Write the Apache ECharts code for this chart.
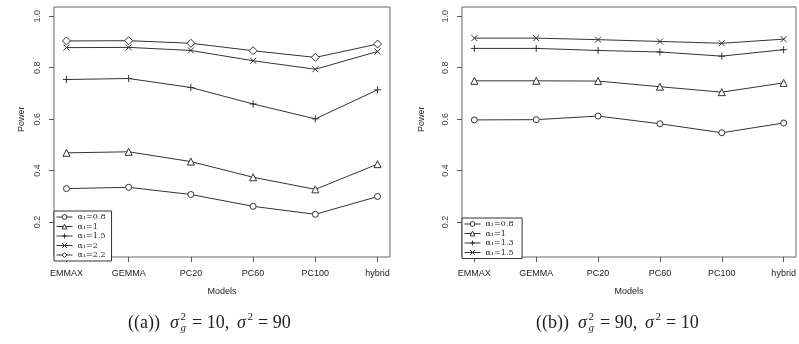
<!DOCTYPE html>
<html>
<head>
<meta charset="utf-8">
<script src="https://cdn.jsdelivr.net/npm/echarts@6/dist/echarts.min.js"></script>
<style>
  html, body { margin: 0; padding: 0; background: #fff; }
  #main { width: 799px; height: 344px; }
</style>
</head>
<body>
<div id="main"></div>
<script>
// models on the x axis
var models = ['EMMAX', 'GEMMA', 'PC20', 'PC60', 'PC100', 'hybrid'];

// panel (a): sigma_g^2 = 10, sigma^2 = 90
var a08 = [0.330, 0.335, 0.307, 0.261, 0.230, 0.299];
var a10 = [0.469, 0.473, 0.435, 0.374, 0.327, 0.425];
var a15 = [0.754, 0.758, 0.723, 0.659, 0.601, 0.714];
var a20 = [0.878, 0.879, 0.867, 0.827, 0.794, 0.863];
var a22 = [0.904, 0.905, 0.895, 0.866, 0.840, 0.892];

// panel (b): sigma_g^2 = 90, sigma^2 = 10
var b08 = [0.597, 0.598, 0.612, 0.582, 0.547, 0.585];
var b10 = [0.749, 0.749, 0.748, 0.726, 0.705, 0.741];
var b13 = [0.875, 0.875, 0.867, 0.861, 0.845, 0.870];
var b15 = [0.915, 0.915, 0.909, 0.902, 0.895, 0.911];

var ink = '#333';
var PLUS = 'path://M5,0L5,10M0,5L10,5';
var CROSS = 'path://M0,0L10,10M10,0L0,10';

// R-style box: frame is 4% wider than the data range on every side
var boxA = { left: 54, top: 7, width: 336, height: 250 };
var boxB = { left: 462, top: 7, width: 334, height: 250 };
var yLo = 0.064, yHi = 1.036;
var TICK = 5;

function inner(box) {
  var padX = box.width * 0.2 / 5.4;
  var top = box.top + box.height * (yHi - 1.0) / (yHi - yLo);
  var bottom = box.top + box.height * (yHi - 0.2) / (yHi - yLo);
  return {
    left: box.left + padX, top: top, width: box.width - 2 * padX, height: bottom - top,
    offX: box.top + box.height - bottom, offY: padX
  };
}
var inA = inner(boxA), inB = inner(boxB);

function line(name, arr, idx, symbol, size) {
  return {
    name: name,
    type: 'line',
    xAxisIndex: idx,
    yAxisIndex: idx,
    data: arr,
    symbol: symbol,
    symbolSize: size,
    clip: false,
    lineStyle: { color: ink, width: 1 },
    itemStyle: { color: '#fff', borderColor: ink, borderWidth: 1 },
    emphasis: { disabled: true },
    z: 3
  };
}

function xAxis(idx, off) {
  return {
    type: 'category', gridIndex: idx, data: models, boundaryGap: false, offset: off,
    name: 'Models', nameLocation: 'middle', nameGap: 30,
    nameTextStyle: { fontSize: 9, color: '#222', fontFamily: 'Liberation Sans' },
    axisLine: { show: false },
    splitLine: { show: false },
    axisTick: { show: false },
    axisLabel: { margin: 12, fontSize: 9, color: '#222', fontFamily: 'Liberation Sans', interval: 0 }
  };
}

function yAxis(idx, off, gap) {
  return {
    type: 'value', gridIndex: idx, min: 0.2, max: 1.0, interval: 0.2, offset: off,
    name: 'Power', nameLocation: 'middle', nameGap: gap, nameRotate: 90,
    nameTextStyle: { fontSize: 9, color: '#222', fontFamily: 'Liberation Sans' },
    axisLine: { show: false },
    splitLine: { show: false },
    axisTick: { show: false },
    axisLabel: {
      rotate: 90, margin: 12, fontSize: 9, color: '#444', fontFamily: 'Liberation Sans',
      formatter: function (v) { return v.toFixed(1); }
    }
  };
}

// thin strip grids whose split lines act as the outward tick marks
var hidden = { show: false };
var tickLine = { show: true, lineStyle: { color: '#555', width: 1 } };
function xTickAxes(idx) {
  return [
    { type: 'category', gridIndex: idx, data: models, boundaryGap: false,
      axisLine: hidden, axisTick: hidden, axisLabel: hidden, splitLine: tickLine },
    { type: 'value', gridIndex: idx, min: 0, max: 1, axisLine: hidden, axisTick: hidden,
      axisLabel: hidden, splitLine: hidden }
  ];
}
function yTickAxes(idx) {
  return [
    { type: 'value', gridIndex: idx, min: 0, max: 1, axisLine: hidden, axisTick: hidden,
      axisLabel: hidden, splitLine: hidden },
    { type: 'value', gridIndex: idx, min: 0.2, max: 1.0, interval: 0.2,
      axisLine: hidden, axisTick: hidden, axisLabel: hidden, splitLine: tickLine }
  ];
}

function legend(names, left, top) {
  return {
    orient: 'vertical', left: left, top: top,
    data: names,
    itemWidth: 16, itemHeight: 6, itemGap: 1.5,
    padding: [2, 6, 2, 2],
    borderColor: ink, borderWidth: 1, backgroundColor: '#fff',
    itemStyle: { borderWidth: 1, borderColor: ink, color: '#fff' },
    lineStyle: { width: 1, color: ink },
    textStyle: { fontSize: 8, color: '#222', lineHeight: 7, fontFamily: 'DejaVu Serif' },
    selectedMode: false,
    z: 5
  };
}

// caption pieces: "((a)) σg² = 10, σ² = 90"
function caption(dx, tag, v1, v2) {
  var f = '"Liberation Serif", "DejaVu Serif", serif';
  var y = 323;
  function t(x, yy, s, size, italic) {
    return {
      type: 'text', x: x + dx, y: yy,
      style: {
        text: s, fill: '#222', fontSize: size, fontFamily: f,
        fontStyle: italic ? 'italic' : 'normal',
        textAlign: 'left', textVerticalAlign: 'middle'
      }
    };
  }
  return [
    t(128, y, '((' + tag + '))', 18, false),
    t(170, y, 'σ', 18, true),
    t(180.5, y - 6, '2', 11, false),
    t(180.5, y + 5, 'g', 11, true),
    t(192, y, '= ' + v1 + ',', 18, false),
    t(237, y, 'σ', 18, true),
    t(247.5, y - 6, '2', 11, false),
    t(258, y, '= ' + v2, 18, false)
  ];
}

function frame(box) {
  return { left: box.left, top: box.top, width: box.width, height: box.height,
    show: true, borderColor: '#666', borderWidth: 1, backgroundColor: 'transparent' };
}
function plain(g) {
  return { left: g.left, top: g.top, width: g.width, height: g.height, show: false };
}
function xStrip(g, box) {
  return plain({ left: g.left, top: box.top + box.height, width: g.width, height: TICK });
}
function yStrip(g, box) {
  return plain({ left: box.left - TICK, top: g.top, width: TICK, height: g.height });
}

var xs = [xAxis(0, inA.offX), xAxis(1, inB.offX)];
var ys = [yAxis(0, inA.offY, 28), yAxis(1, inB.offY, 36)];
[xTickAxes(2), xTickAxes(3), yTickAxes(4), yTickAxes(5)].forEach(function (p) {
  xs.push(p[0]); ys.push(p[1]);
});

var option = {
  backgroundColor: '#fff',
  animation: false,
  grid: [plain(inA), plain(inB),
    xStrip(inA, boxA), xStrip(inB, boxB), yStrip(inA, boxA), yStrip(inB, boxB),
    frame(boxA), frame(boxB)],
  xAxis: xs,
  yAxis: ys,
  legend: [
    legend(['α₁=0.8', 'α₁=1', 'α₁=1.5', 'α₁=2', 'α₁=2.2'], 54, 211),
    legend(['α₁=0.8 ', 'α₁=1 ', 'α₁=1.3', 'α₁=1.5 '], 462, 218)
  ],
  series: [
    line('α₁=0.8', a08, 0, 'circle', 6),
    line('α₁=1', a10, 0, 'triangle', 7),
    line('α₁=1.5', a15, 0, PLUS, 7),
    line('α₁=2', a20, 0, CROSS, 6),
    line('α₁=2.2', a22, 0, 'diamond', 8),
    line('α₁=0.8 ', b08, 1, 'circle', 6),
    line('α₁=1 ', b10, 1, 'triangle', 7),
    line('α₁=1.3', b13, 1, PLUS, 7),
    line('α₁=1.5 ', b15, 1, CROSS, 6)
  ],
  graphic: caption(0, 'a', 10, 90).concat(caption(408, 'b', 90, 10))
};

var myChart = echarts.init(document.getElementById('main'));
myChart.setOption(option);
</script>
</body>
</html>
